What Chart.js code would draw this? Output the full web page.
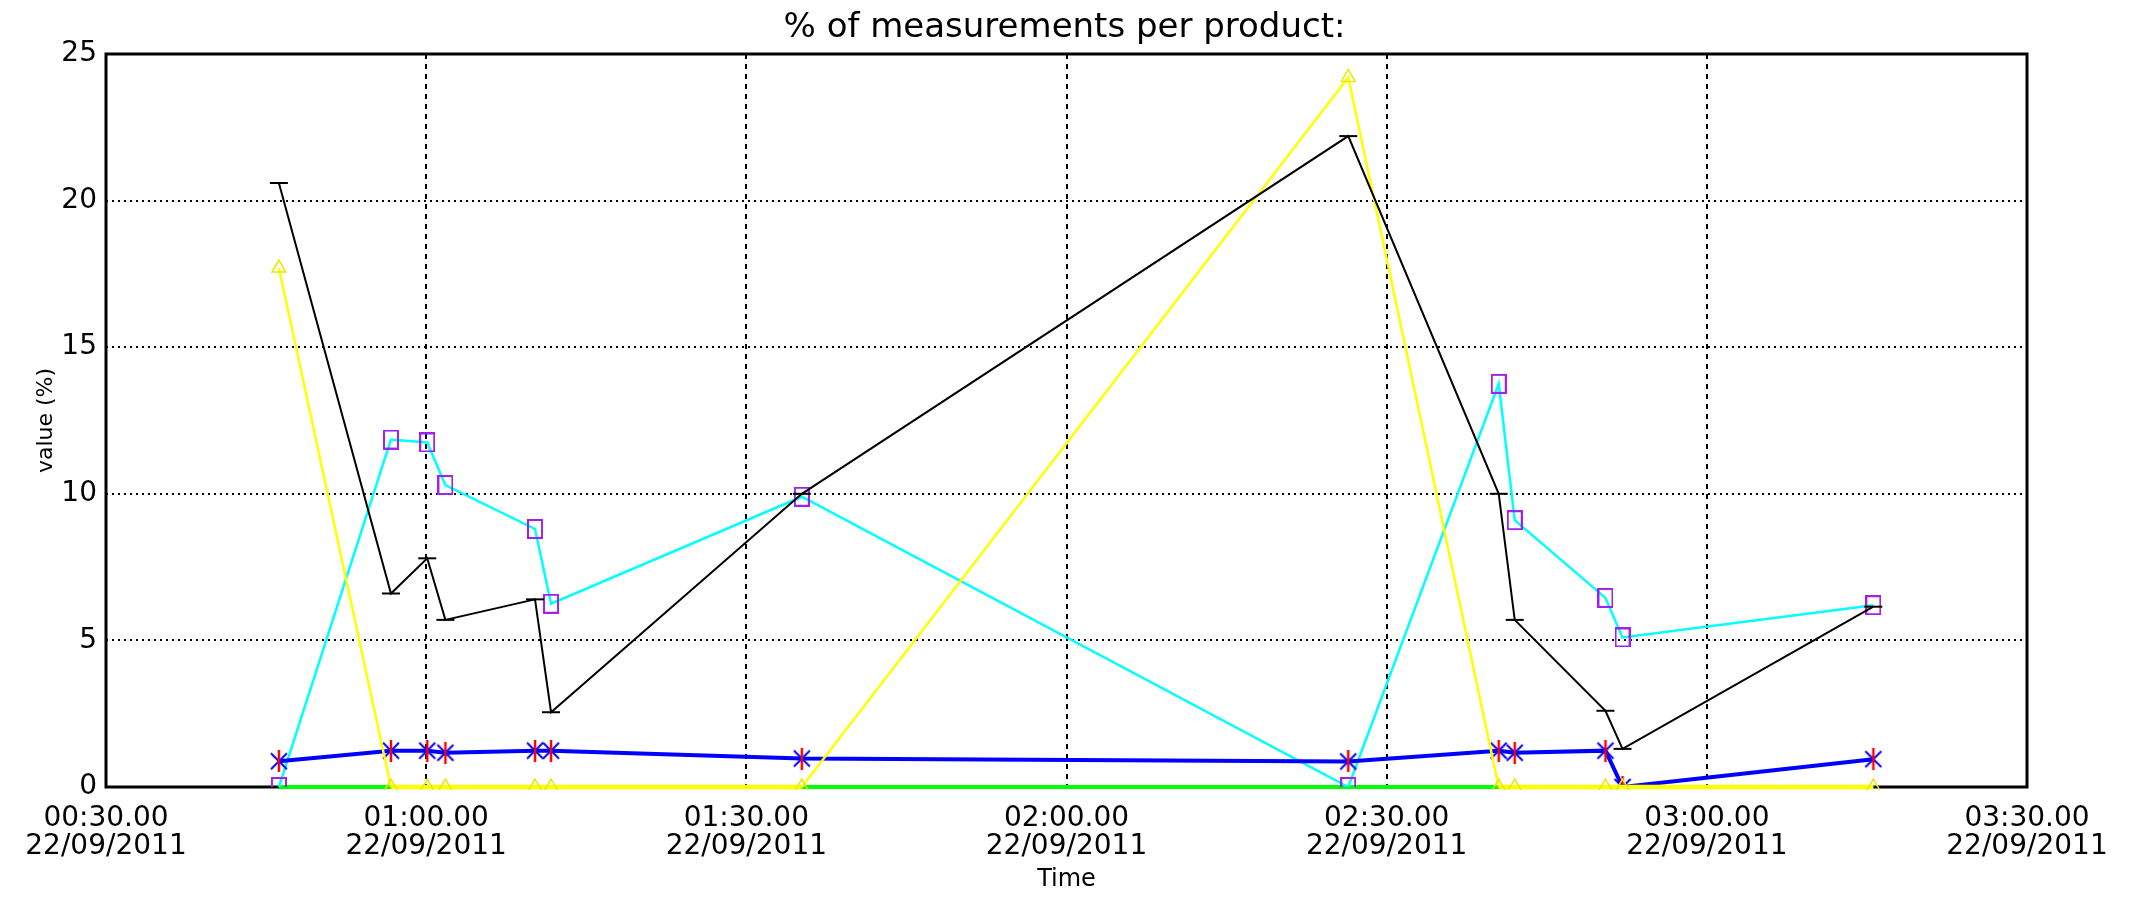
<!DOCTYPE html>
<html>
<head>
<meta charset="utf-8">
<script src="https://cdn.jsdelivr.net/npm/chart.js@4/dist/chart.umd.min.js"></script>
<style>
  html, body { margin: 0; padding: 0; background: #fff; }
  canvas { display: block; }
</style>
</head>
<body>
<canvas id="chart" width="2129" height="910"></canvas>
<script>
//DATA
// sample times, in minutes since 00:00 on 22/09/2011
const sampleMinutes = [46.2, 56.7, 60.1, 61.8, 70.2, 71.7, 95.2, 146.4, 160.5, 162.0, 170.5, 172.1, 195.6];
const blackValues  = [20.6, 6.6, 7.8, 5.7, 6.4, 2.55, 10.0, 22.2, 10.0, 5.7, 2.6, 1.3, 6.15];
const cyanValues   = [0, 11.85, 11.75, 10.3, 8.8, 6.25, 9.9, 0, 13.75, 9.1, 6.45, 5.1, 6.2];
const yellowValues = [17.7, 0, 0, 0, 0, 0, 0, 24.2, 0, 0, 0, 0, 0];
const blueValues   = [0.88, 1.24, 1.24, 1.17, 1.24, 1.24, 0.97, 0.87, 1.24, 1.17, 1.24, 0, 0.95];
const greenValues  = [0, 0, 0, 0, 0, 0, 0, 0, 0, 0, 0, 0, 0];
const dateLabel = '22/09/2011';
const xTickMinutes = [30, 60, 90, 120, 150, 180, 210];
const yTickValues = [0, 5, 10, 15, 20, 25];

const FONT = "'DejaVu Sans', 'Liberation Sans', sans-serif";

function toPoints(values) {
    return values.map((v, i) => ({ x: sampleMinutes[i], y: v }));
}

function pad2(n) {
    return String(n).padStart(2, '0');
}

//MARKERS
function starMarker() {
    const c = document.createElement('canvas');
    c.width = 22; c.height = 22;
    const g = c.getContext('2d');
    g.lineWidth = 2;
    g.strokeStyle = '#0000ff';
    g.beginPath();
    g.moveTo(3, 3); g.lineTo(19, 19);
    g.moveTo(19, 3); g.lineTo(3, 19);
    g.stroke();
    g.strokeStyle = '#ff0000';
    g.lineWidth = 2.5;
    g.beginPath();
    g.moveTo(11, 0); g.lineTo(11, 22);
    g.stroke();
    return c;
}

function squareMarker() {
    const c = document.createElement('canvas');
    c.width = 16; c.height = 20;
    const g = c.getContext('2d');
    g.lineWidth = 2;
    g.strokeStyle = '#a020f0';
    g.strokeRect(1, 1, 14, 18);
    return c;
}

//PLUGINS
const frame = {
    id: 'frame',
    beforeDatasetsDraw(chart) {
        const a = chart.chartArea;
        const ctx = chart.ctx;
        ctx.save();
        ctx.lineWidth = 3;
        ctx.strokeStyle = '#000';
        ctx.strokeRect(a.left, a.top, a.right - a.left, a.bottom - a.top);
        ctx.restore();
    }
};

//CONFIG
const data = {
    datasets: [
        {
            label: 'black',
            data: toPoints(blackValues),
            borderColor: '#000000',
            borderWidth: 2,
            pointStyle: 'line',
            pointRadius: 9,
            pointBorderWidth: 2,
            pointBorderColor: '#000000'
        },
        {
            label: 'yellow',
            data: toPoints(yellowValues),
            borderColor: '#ffff00',
            borderWidth: 2.5,
            // flat stretches on the baseline are drawn as thick as the green line below
            segment: {
                borderWidth: (s) => (s.p0.parsed.y === 0 && s.p1.parsed.y === 0) ? 4.5 : 2.5
            },
            clip: 3,
            pointStyle: 'triangle',
            pointRadius: 8,
            pointBorderWidth: 1.5,
            pointBorderColor: '#e8e800',
            pointBackgroundColor: 'rgba(0,0,0,0)'
        },
        {
            label: 'blue',
            data: toPoints(blueValues),
            borderColor: '#0000ff',
            borderWidth: 4,
            pointStyle: starMarker(),
            pointRadius: 10
        },
        {
            label: 'cyan',
            data: toPoints(cyanValues),
            borderColor: '#00ffff',
            borderWidth: 2.5,
            pointStyle: squareMarker(),
            pointRadius: 10
        },
        {
            label: 'green',
            data: toPoints(greenValues),
            borderColor: '#00ff00',
            borderWidth: 4,
            clip: 3,
            pointRadius: 0
        }
    ]
};

const config = {
    type: 'line',
    data: data,
    plugins: [frame],
    options: {
        responsive: false,
        animation: false,
        devicePixelRatio: 1,
        layout: { padding: 0 },
        elements: { line: { tension: 0 } },
        plugins: {
            legend: { display: false },
            tooltip: { enabled: false },
            title: {
                display: true,
                text: '% of measurements per product:',
                color: '#000',
                font: { family: FONT, size: 34, weight: 'normal', lineHeight: 1 },
                padding: { top: 11, bottom: 9 }
            }
        },
        scales: {
            x: {
                type: 'linear',
                min: xTickMinutes[0],
                max: xTickMinutes[xTickMinutes.length - 1],
                afterBuildTicks(scale) {
                    scale.ticks = xTickMinutes.map(v => ({ value: v }));
                },
                afterFit(scale) { scale.height = 123; },
                ticks: {
                    autoSkip: false,
                    maxRotation: 0,
                    padding: 18,
                    color: '#000',
                    font: { family: FONT, size: 28, lineHeight: 1 },
                    callback(v) {
                        const h = Math.floor(v / 60);
                        const m = Math.round(v % 60);
                        return [pad2(h) + ':' + pad2(m) + '.00', dateLabel];
                    }
                },
                grid: {
                    drawTicks: false,
                    lineWidth: 2,
                    color: (c) => (c.index === 0 || c.index === xTickMinutes.length - 1) ? 'rgba(0,0,0,0)' : '#000'
                },
                border: { display: false, dash: [5, 5] },
                title: {
                    display: true,
                    text: 'Time',
                    color: '#000',
                    font: { family: FONT, size: 24, lineHeight: 1.2 },
                    padding: { top: 0, bottom: 16 }
                }
            },
            y: {
                min: 0,
                max: 25,
                afterBuildTicks(scale) {
                    scale.ticks = yTickValues.map(v => ({ value: v }));
                },
                afterFit(scale) { scale.width = 106; },
                ticks: {
                    padding: 9,
                    color: '#000',
                    font: { family: FONT, size: 28, lineHeight: 1 }
                },
                grid: {
                    drawTicks: false,
                    lineWidth: 2,
                    color: (c) => (c.index === 0 || c.index === yTickValues.length - 1) ? 'rgba(0,0,0,0)' : '#000'
                },
                border: { display: false, dash: [2, 4] },
                title: {
                    display: true,
                    text: 'value (%)',
                    color: '#000',
                    font: { family: FONT, size: 22, lineHeight: 1.2 },
                    padding: { top: 33, bottom: 0 }
                }
            },
            yRight: {
                position: 'right',
                display: true,
                afterFit(scale) { scale.width = 102; },
                ticks: { display: false },
                grid: { display: false },
                border: { display: false }
            }
        }
    }
};

//RENDER
const chart = new Chart(document.getElementById('chart'), config);
</script>
</body>
</html>
